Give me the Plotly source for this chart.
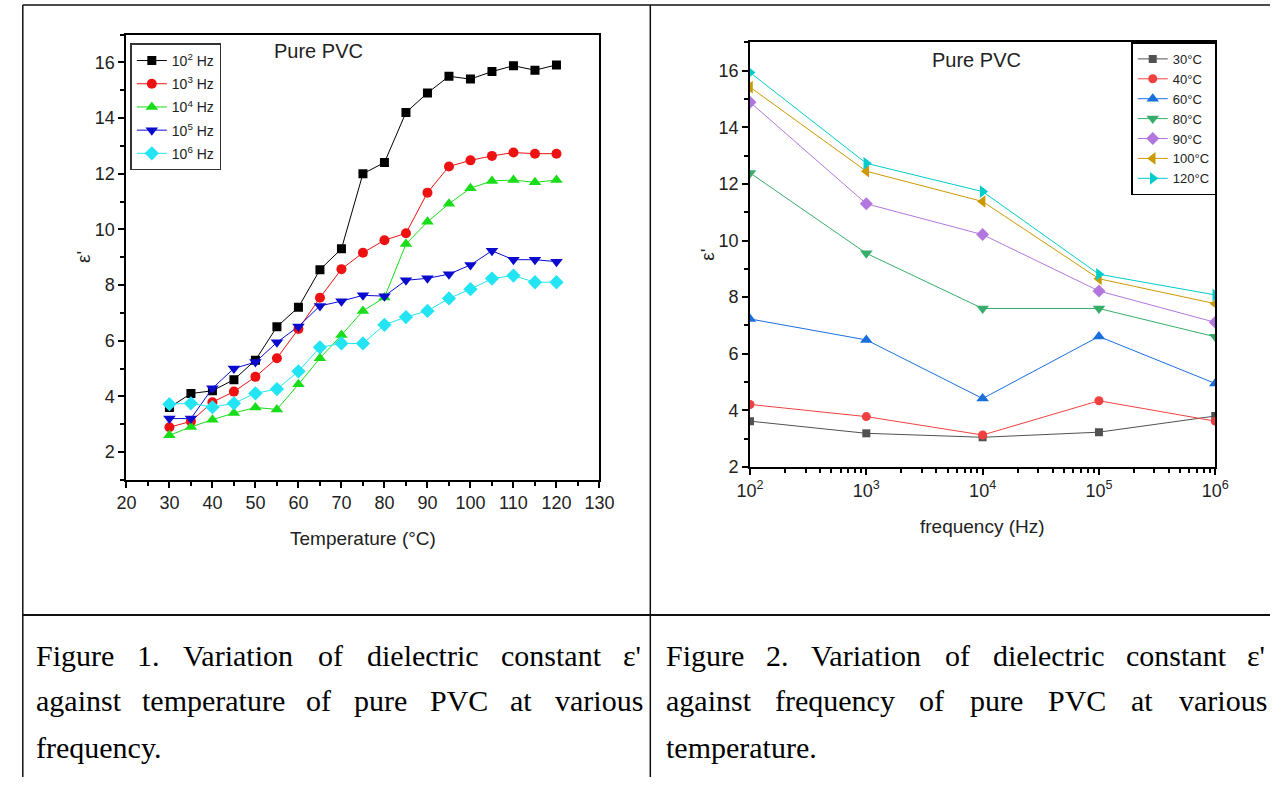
import plotly.graph_objects as go

W, H = 1285, 787

# ---------------- data: Figure 1 (eps' vs temperature) ----------------
temperature_C = [30, 35, 40, 45, 50, 55, 60, 65, 70, 75, 80, 85, 90, 95, 100, 105, 110, 115, 120]
eps_1e2Hz = [3.6, 4.1, 4.2, 4.6, 5.3, 6.5, 7.2, 8.55, 9.3, 12.0, 12.4, 14.2, 14.9, 15.5, 15.4, 15.67, 15.88, 15.72, 15.91]
eps_1e3Hz = [2.89, 3.1, 3.79, 4.17, 4.7, 5.37, 6.42, 7.54, 8.57, 9.16, 9.61, 9.86, 11.32, 12.26, 12.48, 12.64, 12.76, 12.72, 12.72]
eps_1e4Hz = [2.6, 2.9, 3.16, 3.4, 3.6, 3.53, 4.43, 5.37, 6.2, 7.07, 7.55, 9.47, 10.27, 10.92, 11.48, 11.74, 11.77, 11.69, 11.77]
eps_1e5Hz = [3.2, 3.2, 4.29, 5.0, 5.23, 5.94, 6.51, 7.25, 7.42, 7.63, 7.6, 8.17, 8.24, 8.39, 8.72, 9.23, 8.91, 8.91, 8.84]
eps_1e6Hz = [3.72, 3.75, 3.61, 3.75, 4.11, 4.26, 4.9, 5.76, 5.9, 5.9, 6.57, 6.85, 7.07, 7.52, 7.85, 8.23, 8.34, 8.1, 8.1]
fig1_names = ["10<sup>2</sup> Hz", "10<sup>3</sup> Hz", "10<sup>4</sup> Hz", "10<sup>5</sup> Hz", "10<sup>6</sup> Hz"]

# ---------------- data: Figure 2 (eps' vs frequency) ----------------
frequency_Hz = [1e2, 1e3, 1e4, 1e5, 1e6]
eps_30C = [3.62, 3.19, 3.05, 3.23, 3.8]
eps_40C = [4.21, 3.78, 3.13, 4.34, 3.62]
eps_60C = [7.23, 6.49, 4.42, 6.61, 4.95]
eps_80C = [12.39, 9.55, 7.6, 7.6, 6.6]
eps_90C = [14.89, 11.3, 10.21, 8.22, 7.11]
eps_100C = [15.42, 12.45, 11.38, 8.65, 7.77]
eps_120C = [15.94, 12.73, 11.73, 8.81, 8.08]
fig2_names = ["30°C", "40°C", "60°C", "80°C", "90°C", "100°C", "120°C"]
freq_tick_vals = [1e2, 1e3, 1e4, 1e5, 1e6]
freq_tick_text = ["10<sup>2</sup>", "10<sup>3</sup>", "10<sup>4</sup>", "10<sup>5</sup>", "10<sup>6</sup>"]

caption_left = ["Figure 1. Variation of dielectric constant ε'",
                "against temperature of pure PVC at various",
                "frequency."]
caption_right = ["Figure 2. Variation of dielectric constant ε'",
                 "against frequency of pure PVC at various",
                 "temperature."]

SANS = "Liberation Sans, Arial, sans-serif"
SERIF = "Liberation Serif, Times New Roman, serif"


def px(x):
    return x / W


def py(y):
    return 1 - y / H


fig = go.Figure()

# ---- Figure 1 traces ----
f1_series = [eps_1e2Hz, eps_1e3Hz, eps_1e4Hz, eps_1e5Hz, eps_1e6Hz]
f1_colors = ["#000000", "#ee1111", "#18dd18", "#0b0bd0", "#22e4f2"]
f1_symbols = ["square", "circle", "triangle-up", "triangle-down", "diamond"]
f1_sizes = [9, 10, 11, 11, 11]
for i, (ys, name) in enumerate(zip(f1_series, fig1_names)):
    fig.add_trace(go.Scatter(
        x=temperature_C, y=ys, name=name, mode="lines+markers",
        line=dict(color=f1_colors[i], width=1),
        marker=dict(symbol=f1_symbols[i], size=f1_sizes[i], color=f1_colors[i]),
        xaxis="x", yaxis="y", legend="legend", legendgroup="g%d" % i,
    ))

# ---- Figure 2 traces ----
f2_series = [eps_30C, eps_40C, eps_60C, eps_80C, eps_90C, eps_100C, eps_120C]
f2_colors = ["#515151", "#F14040", "#1A6FDF", "#37AD6B", "#B177DE", "#CC9900", "#00CBCC"]
f2_symbols = ["square", "circle", "triangle-up", "triangle-down", "diamond", "triangle-left", "triangle-right"]
f2_sizes = [8, 9, 11, 11, 10, 11, 11]
for i, (ys, name) in enumerate(zip(f2_series, fig2_names)):
    fig.add_trace(go.Scatter(
        x=frequency_Hz, y=ys, name=name, mode="lines+markers",
        line=dict(color=f2_colors[i], width=1),
        marker=dict(symbol=f2_symbols[i], size=f2_sizes[i], color=f2_colors[i]),
        xaxis="x2", yaxis="y2", legend="legend2",
    ))

axis_common = dict(
    showgrid=False, zeroline=False, showline=True, linecolor="black", linewidth=2,
    mirror=True, ticks="outside", ticklen=6, tickwidth=2, tickcolor="black",
    tickfont=dict(family=SANS, size=18, color="#222"),
)

fig.update_layout(
    width=W, height=H,
    autosize=False,
    margin=dict(l=0, r=0, t=0, b=0, pad=0),
    paper_bgcolor="white", plot_bgcolor="white",
    showlegend=True,
    hovermode=False,
    xaxis=dict(domain=[px(115), px(599)], range=[20, 130], tick0=20, dtick=10, anchor="y",
               minor=dict(ticks="outside", dtick=5, ticklen=4, tickwidth=2, tickcolor="black", showgrid=False),
               **axis_common),
    yaxis=dict(domain=[py(486), py(35)], range=[1, 17], tick0=0, dtick=2, anchor="x",
               minor=dict(ticks="outside", dtick=1, ticklen=4, tickwidth=2, tickcolor="black", showgrid=False),
               **axis_common),
    xaxis2=dict(domain=[px(753), px(1229)], type="log", range=[2, 6], anchor="y2",
                tickmode="array", tickvals=freq_tick_vals, ticktext=freq_tick_text,
                minor=dict(ticks="outside", tickmode="array",
                           tickvals=[m * d for d in [1e2, 1e3, 1e4, 1e5] for m in range(2, 10)],
                           ticklen=4, tickwidth=1.5, tickcolor="black", showgrid=False),
                **axis_common),
    yaxis2=dict(domain=[py(473), py(43)], range=[2, 17], tick0=0, dtick=2, anchor="x2",
                minor=dict(ticks="outside", dtick=1, ticklen=4, tickwidth=2, tickcolor="black", showgrid=False),
                **axis_common),
    legend=dict(x=px(119), y=py(44), xanchor="left", yanchor="top",
                bgcolor="white", bordercolor="#333", borderwidth=1.5,
                font=dict(family=SANS, size=14, color="#222"),
                traceorder="grouped", tracegroupgap=2, itemwidth=30),
    legend2=dict(x=px(1230), y=py(43), xanchor="right", yanchor="top",
                 bgcolor="white", bordercolor="black", borderwidth=1.5,
                 font=dict(family=SANS, size=13, color="#222"),
                 itemwidth=30),
)

ann = []


def label(text, x, y, size, angle=0, family=SANS):
    ann.append(dict(text=text, x=px(x), y=py(y), xref="paper", yref="paper",
                    xanchor="center", yanchor="middle", textangle=angle,
                    showarrow=False, font=dict(family=family, size=size, color="#222")))


# panel titles
label("Pure PVC", 312, 52, 20)
label("Pure PVC", 985, 61, 20)
# axis titles
label("Temperature (°C)", 357, 545, 19)
label("frequency (Hz)", 991, 533, 19)
label("ε'", 71, 260, 19, angle=-90)
label("ε'", 710, 258, 19, angle=-90)

# captions (justified by distributing words, Times metrics)
TW = {"F": 556, "V": 722, "P": 556, "C": 667, "a": 444, "c": 444, "d": 500, "e": 444, "f": 333,
      "g": 500, "i": 278, "l": 278, "m": 778, "n": 500, "o": 500, "p": 500, "q": 500, "r": 333,
      "s": 389, "t": 278, "u": 500, "v": 500, "y": 500, "1": 500, "2": 500, ".": 250, "'": 180,
      "ε": 439}
CAP_FS = 30
cap_line_y = [664, 710, 757]


def add_caption(lines, x0, x1):
    for li, line in enumerate(lines):
        words = line.split()
        yy = py(cap_line_y[li])
        if li == len(lines) - 1 or len(words) == 1:
            ann.append(dict(text=line, x=px(x0), y=yy, xref="paper", yref="paper", xanchor="left",
                            yanchor="middle", showarrow=False, borderpad=0,
                            font=dict(family=SERIF, size=CAP_FS, color="black")))
            continue
        widths = [sum(TW.get(c, 500) for c in w) * CAP_FS / 1000 for w in words]
        gap = (x1 - x0 - sum(widths)) / (len(words) - 1)
        xc = x0
        for w, wd in zip(words, widths):
            ann.append(dict(text=w, x=px(xc), y=yy, xref="paper", yref="paper", xanchor="left",
                            yanchor="middle", showarrow=False, borderpad=0,
                            font=dict(family=SERIF, size=CAP_FS, color="black")))
            xc += wd + gap


add_caption(caption_left, 21, 641)
add_caption(caption_right, 666, 1279)
fig.update_layout(annotations=ann)

# table borders
shapes = []
line_style = dict(color="#111", width=1.5)
shapes.append(dict(type="line", xref="paper", yref="paper", x0=px(9), x1=1, y0=py(5), y1=py(5), line=line_style))
shapes.append(dict(type="line", xref="paper", yref="paper", x0=px(9), x1=px(9), y0=py(5), y1=0, line=line_style))
shapes.append(dict(type="line", xref="paper", yref="paper", x0=px(651), x1=px(651), y0=py(5), y1=0, line=line_style))
shapes.append(dict(type="line", xref="paper", yref="paper", x0=px(9), x1=1, y0=py(623), y1=py(623),
                   line=dict(color="#111", width=2)))
fig.update_layout(shapes=shapes)

fig.write_html("out.html")
